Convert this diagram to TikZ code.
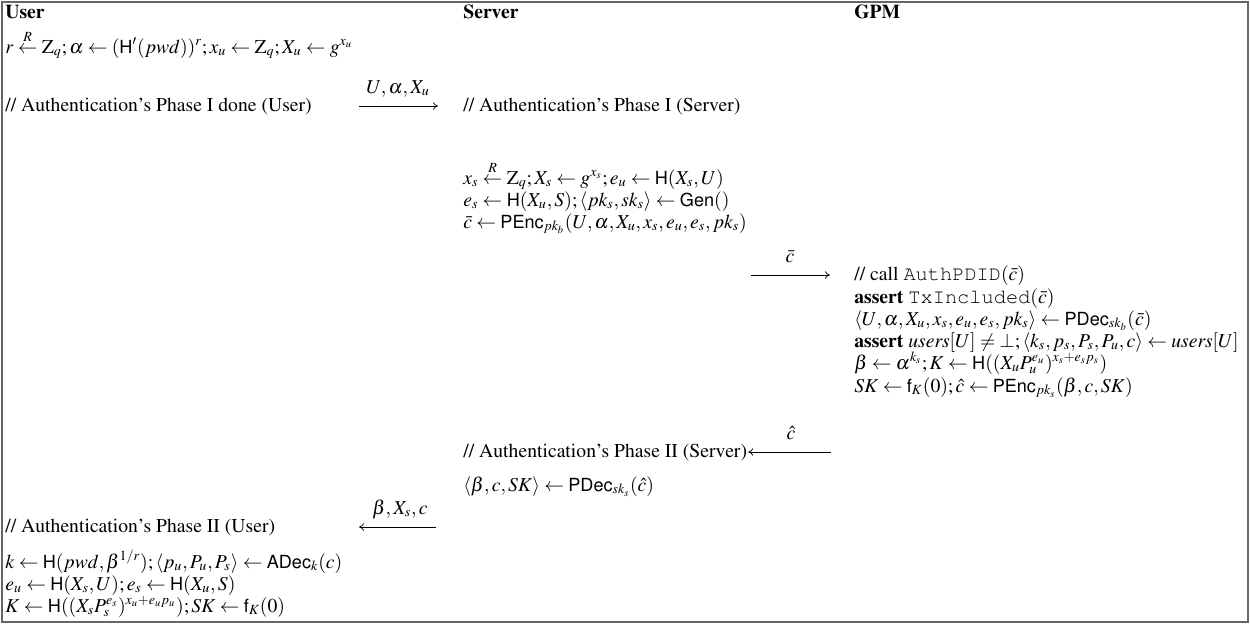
\documentclass[tikz,border=0pt]{standalone}
\usepackage[T1]{fontenc}
\usepackage{amsmath}
\usepackage{mathptmx}
\usepackage[scaled=0.92]{helvet}
\usepackage{courier}
\DeclareMathSizes{11.8}{11.8}{8.4}{6.3}
\DeclareMathAlphabet{\mathhv}{OT1}{phv}{m}{n}
\newcommand{\fn}[1]{\mathhv{#1}}
\newcommand{\code}[1]{{\fontsize{12.2}{14}\selectfont\ttfamily #1}}
\usetikzlibrary{arrows.meta}
\begin{document}
\begin{tikzpicture}[x=0.6pt,y=-0.6pt,
  txt/.style={anchor=base west,inner sep=0pt,font=\fontsize{11.8}{14}\selectfont},
  lbl/.style={anchor=base,inner sep=0pt,font=\fontsize{11.8}{14}\selectfont},
  msg/.style={-{To[length=3pt,width=4.5pt]},line width=0.45pt},
  frame/.style={draw=black!60,line width=1pt}]
\useasboundingbox (0,0) rectangle (1250,624);
\draw[frame] (2,2) rectangle (1248,622);
% headers
\node[txt] (hU) at (5,18) {\textbf{User}};
\node[txt] (hS) at (463,18) {\textbf{Server}};
\node[txt] (hG) at (854,18) {\textbf{GPM}};
% user phase I
\node[txt] (u1) at (5,53) {$r \stackrel{R}{\leftarrow} \mathrm{Z}_q; \alpha \leftarrow (\fn{H}'(pwd))^r; x_u \leftarrow \mathrm{Z}_q; X_u \leftarrow g^{x_u}$};
\node[txt] (u2) at (5,111) {// Authentication's Phase I done (User)};
\coordinate (m1a) at (359,106);
\coordinate (m1b) at (438,106);
\draw[msg] (m1a) -- (m1b);
\node[lbl] (l1) at (398,93) {$U,\alpha,X_u$};
% server phase I
\node[txt] (s1) at (463,111) {// Authentication's Phase I (Server)};
\node[txt] (s2) at (463,184) {$x_s \stackrel{R}{\leftarrow} \mathrm{Z}_q; X_s \leftarrow g^{x_s}; e_u \leftarrow \fn{H}(X_s,U)$};
\node[txt] (s3) at (463,206) {$e_s \leftarrow \fn{H}(X_u,S); \langle pk_s, sk_s\rangle \leftarrow \fn{Gen}()$};
\node[txt] (s4) at (463,228) {$\bar{c} \leftarrow \fn{PEnc}_{pk_b}(U,\alpha,X_u,x_s,e_u,e_s,pk_s)$};
\coordinate (m2a) at (751,275);
\coordinate (m2b) at (830,275);
\draw[msg] (m2a) -- (m2b);
\node[lbl] (l2) at (790,262) {$\bar{c}$};
% GPM
\node[txt] (g1) at (854,280) {// call \code{AuthPDID}$(\bar{c})$};
\node[txt] (g2) at (854,303) {\textbf{assert} \code{TxIncluded}$(\bar{c})$};
\node[txt] (g3) at (854,325) {$\langle U,\alpha,X_u,x_s,e_u,e_s,pk_s\rangle \leftarrow \fn{PDec}_{sk_b}(\bar{c})$};
\node[txt] (g4) at (854,347) {\textbf{assert} $\mathit{users}[U] \neq \bot; \langle k_s,p_s,P_s,P_u,c\rangle \leftarrow \mathit{users}[U]$};
\node[txt] (g5) at (854,369) {$\beta \leftarrow \alpha^{k_s}; K \leftarrow \fn{H}((X_u P_u^{e_u})^{x_s+e_s p_s})$};
\node[txt] (g6) at (854,392) {$SK \leftarrow \fn{f}_K(0); \hat{c} \leftarrow \fn{PEnc}_{pk_s}(\beta,c,SK)$};
% server phase II
\node[txt] (s5) at (463,457) {// Authentication's Phase II (Server)};
\coordinate (m3a) at (831,452);
\coordinate (m3b) at ([xshift=0.5pt]s5.east |- m3a);
\draw[msg] (m3a) -- (m3b);
\node[lbl] (l3) at (791,439) {$\hat{c}$};
\node[txt] (s6) at (463,491) {$\langle\beta,c,SK\rangle \leftarrow \fn{PDec}_{sk_s}(\hat{c})$};
% user phase II
\node[txt] (u3) at (5,532) {// Authentication's Phase II (User)};
\coordinate (m4a) at (436,527);
\coordinate (m4b) at (359,527);
\draw[msg] (m4a) -- (m4b);
\node[lbl] (l4) at (400,514) {$\beta,X_s,c$};
\node[txt] (u4) at (5,568) {$k \leftarrow \fn{H}(pwd,\beta^{1/r}); \langle p_u,P_u,P_s\rangle \leftarrow \fn{ADec}_k(c)$};
\node[txt] (u5) at (5,590) {$e_u \leftarrow \fn{H}(X_s,U); e_s \leftarrow \fn{H}(X_u,S)$};
\node[txt] (u6) at (5,612) {$K \leftarrow \fn{H}((X_s P_s^{e_s})^{x_u+e_u p_u}); SK \leftarrow \fn{f}_K(0)$};
\end{tikzpicture}
\end{document}
